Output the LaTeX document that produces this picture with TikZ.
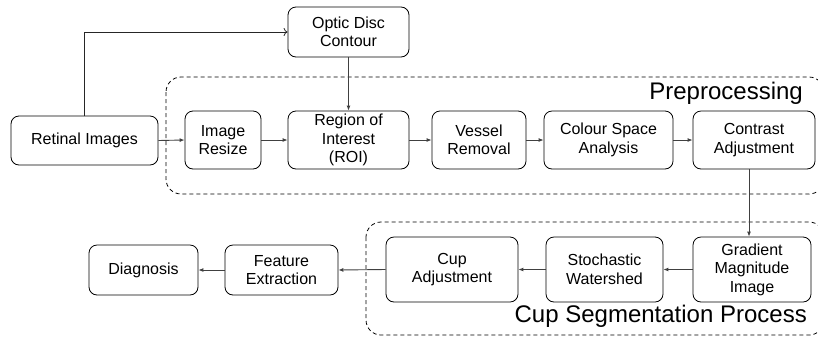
\documentclass[tikz,border=0pt]{standalone}
\usepackage{fontspec}
\setmainfont{Liberation Sans}
\usetikzlibrary{arrows.meta,calc}
\begin{document}
\begin{tikzpicture}[x=1pt,y=-1pt,
  box/.style={draw=black,line width=0.8pt,rounded corners=8pt,align=center,
    font=\fontsize{16}{18.5}\selectfont,inner sep=0pt},
  grp/.style={draw=black,dash pattern=on 4pt off 3pt,line width=0.8pt,rounded corners=15pt},
  arr/.style={draw=black!75,line width=0.9pt,-{Latex[length=5pt,width=4pt]}},
  oarr/.style={draw=black!85,line width=0.8pt,-{To[length=4pt,width=8pt]}},
  lbl/.style={font=\fontsize{24}{28}\selectfont,anchor=east,inner sep=0pt}]
\useasboundingbox (0,0) rectangle (818,338);
% groups
\draw[grp] (166,77) rectangle (824,194);
\draw[grp] (366,222) rectangle (824,335);
\node[lbl] (prelbl) at (803,93) {Preprocessing};
\node[lbl] (cuplbl) at (807,316) {Cup Segmentation Process};
% nodes
\node[box,minimum width=121pt,minimum height=50pt] (opt) at (348.5,32) {Optic Disc\\Contour};
\node[box,minimum width=147pt,minimum height=49pt] (ret) at (84.5,140.5) {Retinal Images};
\node[box,minimum width=76pt,minimum height=58pt] (res) at (223,140) {Image\\Resize};
\node[box,minimum width=121pt,minimum height=58pt] (roi) at (348.5,140) {Region of\\Interest\\(ROI)};
\node[box,minimum width=94pt,minimum height=58pt] (ves) at (479,140) {Vessel\\Removal};
\node[box,minimum width=129pt,minimum height=58pt] (col) at (608.5,140) {Colour Space\\Analysis};
\node[box,minimum width=122pt,minimum height=58pt] (con) at (754,140) {Contrast\\Adjustment};
\node[box,minimum width=109pt,minimum height=50pt] (diag) at (143.5,270) {Diagnosis};
\node[box,minimum width=113pt,minimum height=50pt] (feat) at (281.5,270) {Feature\\Extraction};
\node[box,minimum width=132pt,minimum height=65pt] (cup) at (452,269.5) {Cup\\Adjustment};
\node[box,minimum width=117pt,minimum height=65pt] (sto) at (604.5,269.5) {Stochastic\\Watershed};
\node[box,minimum width=118pt,minimum height=65pt] (grad) at (752,269.5) {Gradient\\Magnitude\\Image};
% connectors
\draw[oarr] (ret.north) |- (opt.west);
\draw[arr] (opt.south) -- (roi.north);
\draw[arr] (ret.east) -- (res.west);
\draw[arr] (res.east) -- (roi.west);
\draw[arr] (roi.east) -- (ves.west);
\draw[arr] (ves.east) -- (col.west);
\draw[arr] (col.east) -- (con.west);
\draw[arr] ($(con.south)+(-5,0)$) -- ($(grad.north)+(-3,0)$);
\draw[arr] (grad.west) -- (sto.east);
\draw[arr] (sto.west) -- (cup.east);
\draw[arr] (cup.west) -- (feat.east);
\draw[arr] (feat.west) -- (diag.east);
\end{tikzpicture}
\end{document}
